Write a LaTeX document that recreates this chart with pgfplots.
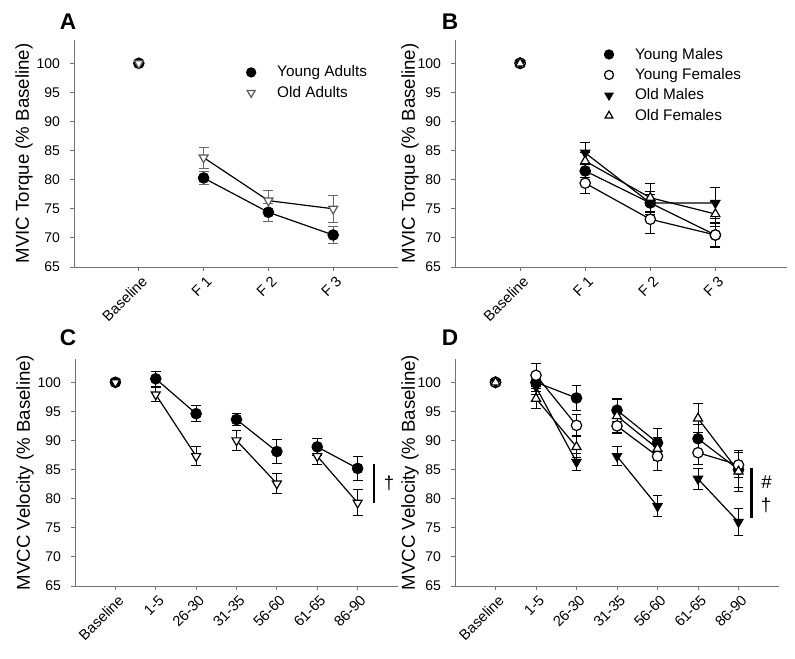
\documentclass[border=0pt]{standalone}
\usepackage{fontspec}
\setmainfont{Liberation Sans}
\usepackage{pgfplots}
\pgfplotsset{compat=1.18}

\tikzset{note/.style={font=\fontsize{14}{16}\selectfont}}

\pgfplotsset{
  panel/.style={
    scale only axis, clip=false,
    axis x line*=bottom, axis y line*=left,
    ymin=65, ymax=104, ytick={65,70,...,100},
    axis line style={black!55, line width=0.7pt},
    tick style={black!55, line width=0.6pt},
    major tick length=3pt, tick align=outside,
    /pgf/number format/assume math mode=true,
    yticklabel style={font=\fontsize{10.5}{12}\selectfont, xshift=-4pt},
    xticklabel style={font=\fontsize{11}{12}\selectfont, rotate=45, anchor=north east, inner sep=1pt, yshift=-2pt},
    unbounded coords=jump,
    every axis plot/.append style={black, line width=0.9pt, mark size=3.9pt},
    legend style={draw=none, fill=none, inner sep=0pt, row sep=1.5pt,
      font=\fontsize{11.5}{13}\selectfont, anchor=north west},
    legend cell align=left,
    legend image code/.code={
      \path (0,0) (0.9cm,0);
      \draw[##1, only marks, mark size=3.4pt] plot coordinates {(0.3cm,0cm)};},
  },
  ylab/.style={every axis y label/.style={at={(rel axis cs:0,0.5)}, xshift=-#1,
      rotate=90, anchor=center, font=\fontsize{14}{16}\selectfont}},
  ebars/.style={error bars/.cd, y dir=both, y explicit,
    error bar style={line width=0.7pt, #1},
    error mark options={rotate=90, mark size=3.7pt, line width=0.7pt, #1}},
  ebars/.default={black},
  yg/.style={mark=*, mark options={fill=black, solid}},
  yf/.style={mark=*, mark options={fill=white, solid}},
  om/.style={mark=triangle*, mark options={fill=black, rotate=180, solid}},
  ofe/.style={mark=triangle*, mark options={fill=white, solid}},
  oa/.style={mark=triangle*, mark options={fill=white, rotate=180, solid, draw=#1}},
  oa/.default={black},
}

\begin{document}
\begin{tikzpicture}
\path[use as bounding box] (0,0) rectangle (596.25pt,494.25pt);

% ---------- A ----------
\begin{axis}[panel, at={(55.5pt,294pt)}, anchor=south west,
  width=243pt, height=170.25pt,
  xmin=-1, xmax=4, xtick={0,1,2,3},
  xticklabels={Baseline, F 1, F 2, F 3},
  ylabel={MVIC Torque (\% Baseline)}, ylab=37.5pt,
  legend style={at={(axis description cs:0.509,0.899)}},
]
\addplot[yg, ebars={black!60}] coordinates {
  (0,100) +- (0,0) (0.5,nan) +- (0,0)
  (1,80.3) +- (0,1.1) (2,74.4) +- (0,1.6) (3,70.5) +- (0,1.5)};
\addplot[oa={black!65}, ebars={black!60}] coordinates {
  (0,100) +- (0,0) (0.5,nan) +- (0,0)
  (1,83.8) +- (0,1.8) (2,76.4) +- (0,1.7) (3,75.0) +- (0,2.3)};
\legend{Young Adults, Old Adults}
\end{axis}

% ---------- B ----------
\begin{axis}[panel, at={(341.25pt,294pt)}, anchor=south west,
  width=249pt, height=170.25pt,
  xmin=-1, xmax=4.1, xtick={0,1,2,3},
  xticklabels={Baseline, F 1, F 2, F 3},
  ylabel={MVIC Torque (\% Baseline)}, ylab=33.75pt,
  legend style={at={(axis description cs:0.427,0.978)}},
]
\addplot[yg, ebars] coordinates {
  (0,100) +- (0,0) (0.5,nan) +- (0,0)
  (1,81.5) +- (0,1.2) (2,76.0) +- (0,1.5) (3,70.5) +- (0,2.0)};
\addplot[yf, ebars] coordinates {
  (0,100) +- (0,0) (0.5,nan) +- (0,0)
  (1,79.4) +- (0,1.8) (2,73.2) +- (0,2.4) (3,70.5) +- (0,2.1)};
\addplot[om, ebars] coordinates {
  (0,100) +- (0,0) (0.5,nan) +- (0,0)
  (1,84.6) +- (0,1.8) (2,76.0) +- (0,2.0) (3,76.0) +- (0,2.6)};
\addplot[ofe, ebars] coordinates {
  (0,100) +- (0,0) (0.5,nan) +- (0,0)
  (1,83.2) +- (0,1.5) (2,76.9) +- (0,2.5) (3,74.1) +- (0,2.2)};
\legend{Young Males, Young Females, Old Males, Old Females}
\end{axis}

% ---------- C ----------
\begin{axis}[panel, at={(56.25pt,54.75pt)}, anchor=south west,
  width=242.25pt, height=170.25pt,
  xmin=-1, xmax=7, xtick={0,...,6},
  xticklabels={Baseline, 1-5, 26-30, 31-35, 56-60, 61-65, 86-90},
  ylabel={MVCC Velocity (\% Baseline)}, ylab=37.5pt,
]
\addplot[yg, ebars] coordinates {
  (0,100) +- (0,0) (0.5,nan) +- (0,0)
  (1,100.6) +- (0,1.3) (2,94.6) +- (0,1.4) (2.5,nan) +- (0,0)
  (3,93.6) +- (0,1.0) (4,88.1) +- (0,2.1) (4.5,nan) +- (0,0)
  (5,88.9) +- (0,1.5) (6,85.2) +- (0,2.0)};
\addplot[oa, ebars] coordinates {
  (0,100) +- (0,0) (0.5,nan) +- (0,0)
  (1,97.9) +- (0,1.2) (2,87.3) +- (0,1.6) (2.5,nan) +- (0,0)
  (3,90.0) +- (0,1.7) (4,82.6) +- (0,1.75) (4.5,nan) +- (0,0)
  (5,87.3) +- (0,1.5) (6,79.3) +- (0,2.2)};
\draw[line width=1.8pt] (axis cs:6.4,86.0) -- (axis cs:6.4,79.3);
\node[note] at (axis cs:6.78,82.7) {†};
\end{axis}

% ---------- D ----------
\begin{axis}[panel, at={(341.25pt,54.75pt)}, anchor=south west,
  width=243pt, height=170.25pt,
  xmin=-1, xmax=7, xtick={0,...,6},
  xticklabels={Baseline, 1-5, 26-30, 31-35, 56-60, 61-65, 86-90},
  ylabel={MVCC Velocity (\% Baseline)}, ylab=33.75pt,
]
\addplot[yg, ebars] coordinates {
  (0,100) +- (0,0) (0.5,nan) +- (0,0)
  (1,100.0) +- (0,1.5) (2,97.3) +- (0,2.2) (2.5,nan) +- (0,0)
  (3,95.2) +- (0,2.0) (4,89.6) +- (0,2.5) (4.5,nan) +- (0,0)
  (5,90.3) +- (0,2.5) (6,85.0) +- (0,3.0)};
\addplot[yf, ebars] coordinates {
  (0,100) +- (0,0) (0.5,nan) +- (0,0)
  (1,101.2) +- (0,2.0) (2,92.6) +- (0,1.8) (2.5,nan) +- (0,0)
  (3,92.5) +- (0,1.3) (4,87.3) +- (0,2.4) (4.5,nan) +- (0,0)
  (5,87.9) +- (0,2.0) (6,85.8) +- (0,2.2)};
\addplot[om, ebars] coordinates {
  (0,100) +- (0,0) (0.5,nan) +- (0,0)
  (1,99.2) +- (0,1.3) (2,86.3) +- (0,1.4) (2.5,nan) +- (0,0)
  (3,87.3) +- (0,1.6) (4,78.7) +- (0,1.8) (4.5,nan) +- (0,0)
  (5,83.4) +- (0,1.8) (6,76.0) +- (0,2.3)};
\addplot[ofe, ebars] coordinates {
  (0,100) +- (0,0) (0.5,nan) +- (0,0)
  (1,97.2) +- (0,1.7) (2,88.9) +- (0,1.8) (2.5,nan) +- (0,0)
  (3,94.2) +- (0,2.8) (4,88.6) +- (0,2.0) (4.5,nan) +- (0,0)
  (5,93.8) +- (0,2.5) (6,84.7) +- (0,3.5)};
\draw[line width=1.8pt] (axis cs:6.32,85.2) -- (axis cs:6.32,76.6);
\node[note] at (axis cs:6.69,82.8) {\#};
\node[note] at (axis cs:6.68,78.9) {†};
\end{axis}

% panel letters
\node[font=\bfseries\fontsize{17}{19}\selectfont] at (51pt,477.75pt) {A};
\node[font=\bfseries\fontsize{17}{19}\selectfont] at (337.5pt,477.75pt) {B};
\node[font=\bfseries\fontsize{17}{19}\selectfont] at (51pt,240.75pt) {C};
\node[font=\bfseries\fontsize{17}{19}\selectfont] at (337.5pt,240.75pt) {D};
\end{tikzpicture}
\end{document}
